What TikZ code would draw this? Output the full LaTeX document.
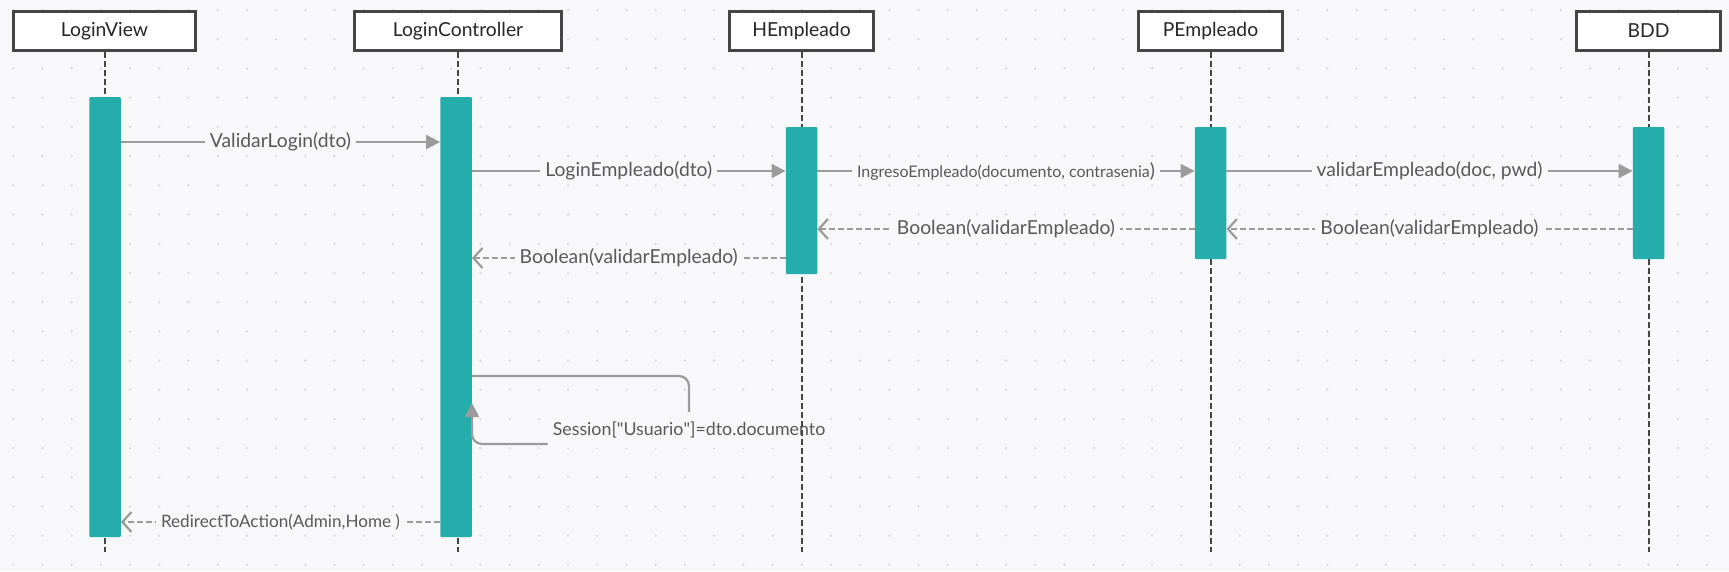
\documentclass[tikz,border=0pt]{standalone}
\usepackage{fontspec}
\setmainfont{Lato}
\usetikzlibrary{arrows.meta}
\definecolor{bgc}{HTML}{F8F8FA}
\definecolor{dotc}{HTML}{DCDCE0}
\definecolor{barc}{HTML}{25ADAB}
\definecolor{linec}{HTML}{9B9B9B}
\definecolor{txtc}{HTML}{595959}
\definecolor{edgec}{HTML}{454545}

\begin{document}
\begin{tikzpicture}[x=1pt,y=-1pt]
\path[use as bounding box, fill=bgc] (0,0) rectangle (1729,571);
\tikzstyle{head}=[draw=edgec, line width=2.7pt, fill=white, minimum height=39.5pt, inner sep=0pt, text=black!85, font=\fontsize{19.3}{22}\selectfont]
\tikzstyle{life}=[draw=edgec, line width=2pt, dash pattern=on 6pt off 3pt]
\tikzstyle{bar}=[fill=barc, rounded corners=1pt, minimum width=31.5pt, inner sep=0pt]
\tikzstyle{wire}=[draw=linec, line width=2.2pt]
\tikzstyle{call}=[wire, -{Triangle[length=14pt,width=14pt]}]
\tikzstyle{reply}=[wire, -{Straight Barb[length=9pt,width=20pt]}, dash pattern=on 6pt off 3pt]
\tikzstyle{lbl}=[fill=bgc, text=txtc, inner xsep=5pt, inner ysep=2pt, font=\fontsize{19.3}{22}\selectfont]

\foreach \i in {0,...,58}
  \foreach \j in {0,...,19}
    \fill[dotc] (13.3+29.2*\i,10.1+29.2*\j) circle (1.4pt);

\node[head, minimum width=182.3pt] (lv) at (104.5,31) {LoginView};
\node[head, minimum width=207.3pt] (lc) at (458,31) {LoginController};
\node[head, minimum width=144.3pt] (he) at (801.5,31) {HEmpleado};
\node[head, minimum width=144.3pt] (pe) at (1210.5,31) {PEmpleado};
\node[head, minimum width=144.3pt] (db) at (1648.5,31) {BDD};

\node[lbl, minimum height=36pt, font=\fontsize{17.8}{21}\selectfont] (sess) at (689,430) {Session[\textquotedbl Usuario\textquotedbl]=dto.documento};

\coordinate (bottom) at (0,552);
\draw[life] (lv.south) -- (lv.south |- bottom);
\draw[life] (lc.south) -- (lc.south |- bottom);
\draw[life] (he.south) -- (he.south |- bottom);
\draw[life] (pe.south) -- (pe.south |- bottom);
\draw[life] (db.south) -- (db.south |- bottom);

\node[bar, minimum height=440pt] (lvbar) at (105,317) {};
\node[bar, minimum height=440pt] (lcbar) at (456,317) {};
\node[bar, minimum height=147pt] (hebar) at (801.5,200.5) {};
\node[bar, minimum height=132pt] (pebar) at (1210.5,193) {};
\node[bar, minimum height=132pt] (dbbar) at (1648.5,193) {};

\coordinate (r1) at (0,142);
\coordinate (r2) at (0,171);
\coordinate (r3) at (0,229);
\coordinate (r4) at (0,258);
\coordinate (r5) at (0,522);
\coordinate (s1) at (689,376);
\coordinate (s2) at (0,444);
\coordinate (s3) at (0,403);

\draw[call] (lvbar.east |- r1) -- (lcbar.west |- r1) node[lbl, midway] {ValidarLogin(dto)};
\draw[call] (lcbar.east |- r2) -- (hebar.west |- r2) node[lbl, midway] {LoginEmpleado(dto)};
\draw[call] (hebar.east |- r2) -- (pebar.west |- r2) node[lbl, midway, font=\fontsize{16}{19}\selectfont] {IngresoEmpleado(documento, contrasenia{\fontsize{19.3}{22}\selectfont)}};
\draw[call] (pebar.east |- r2) -- (dbbar.west |- r2) node[lbl, midway] {validarEmpleado(doc, pwd)};

\draw[reply] (dbbar.west |- r3) -- (pebar.east |- r3) node[lbl, midway] {Boolean(validarEmpleado)};
\draw[reply] (pebar.west |- r3) -- (hebar.east |- r3) node[lbl, midway] {Boolean(validarEmpleado)};
\draw[reply] (hebar.west |- r4) -- (lcbar.east |- r4) node[lbl, midway] {Boolean(validarEmpleado)};

\draw[wire, rounded corners=10pt] (lcbar.east |- s1) -| (sess.north);
\draw[call, rounded corners=10pt] (sess.west |- s2) -| (lcbar.east |- s3);

\draw[reply] (lcbar.west |- r5) -- (lvbar.east |- r5) node[lbl, midway, font=\fontsize{17.1}{20}\selectfont] {RedirectToAction(Admin,Home )};
\end{tikzpicture}
\end{document}
